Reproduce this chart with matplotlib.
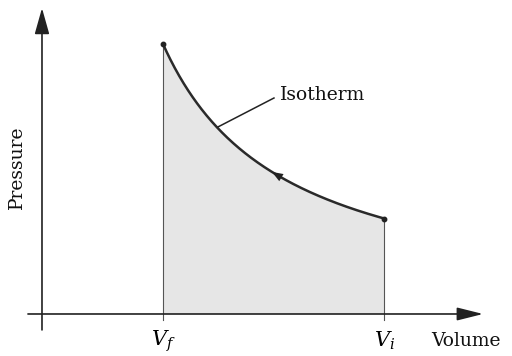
import numpy as np
import matplotlib.pyplot as plt

plt.rcParams['font.family'] = ['DejaVu Serif']
plt.rcParams['mathtext.fontset'] = 'dejavuserif'

# isotherm end states (arbitrary units)
V_f = 1.0
V_i = 2.83
P_f = 1.0
P_i = P_f * V_f / V_i

# isotherm: P V = const
V = np.linspace(V_f, V_i, 300)
P = P_f * V_f / V

fig = plt.figure(figsize=(5.12, 3.56), dpi=100)
ax = fig.add_axes([0, 0, 1, 1])
ax.set_xlim(-0.347, 3.884)
ax.set_ylim(-0.1556, 1.163)
ax.axis('off')

# shaded work area under the curve
ax.fill_between(V, 0, P, color='#e6e6e6', lw=0)
ax.plot([V_f, V_f], [-0.022, P_f], color='#555555', lw=0.8)
ax.plot([V_i, V_i], [-0.022, P_i], color='#555555', lw=0.8)

# axes with arrows
ax.annotate('', xy=(3.645, 0), xytext=(-0.116, 0),
            arrowprops=dict(arrowstyle='-|>,head_length=1.6,head_width=0.4',
                            color='#222222', lw=1.2, shrinkA=0, shrinkB=0))
ax.annotate('', xy=(0, 1.133), xytext=(0, -0.059),
            arrowprops=dict(arrowstyle='-|>,head_length=1.6,head_width=0.45',
                            color='#222222', lw=1.2, shrinkA=0, shrinkB=0))

# isotherm curve
ax.plot(V, P, color='#2a2a2a', lw=1.8)
ax.plot([V_f, V_i], [P_f, P_i], 'o', color='#222222', ms=3.2)

# direction arrow on the curve (compression)
k = 155
ax.annotate('', xy=(V[k - 8], P[k - 8]), xytext=(V[k], P[k]),
            arrowprops=dict(arrowstyle='-|>,head_length=0.8,head_width=0.3',
                            color='#222222', lw=0, shrinkA=0, shrinkB=0))

# isotherm label with leader line
ax.plot([1.455, 1.917], [0.693, 0.800], color='#222222', lw=1.1)
ax.text(1.965, 0.811, 'Isotherm', fontsize=13.5, va='center', ha='left',
        color='#111111')

ax.text(-0.207, 0.544, 'Pressure', rotation=90, fontsize=13.5,
        ha='center', va='center', color='#111111')
ax.text(3.22, -0.1, 'Volume', fontsize=13.5, ha='left', va='center',
        color='#111111')
ax.text(V_f, -0.1, '$V_f$', fontsize=15, ha='center', va='center')
ax.text(V_i, -0.1, '$V_i$', fontsize=15, ha='center', va='center')

fig.savefig('out.png', dpi=100)
